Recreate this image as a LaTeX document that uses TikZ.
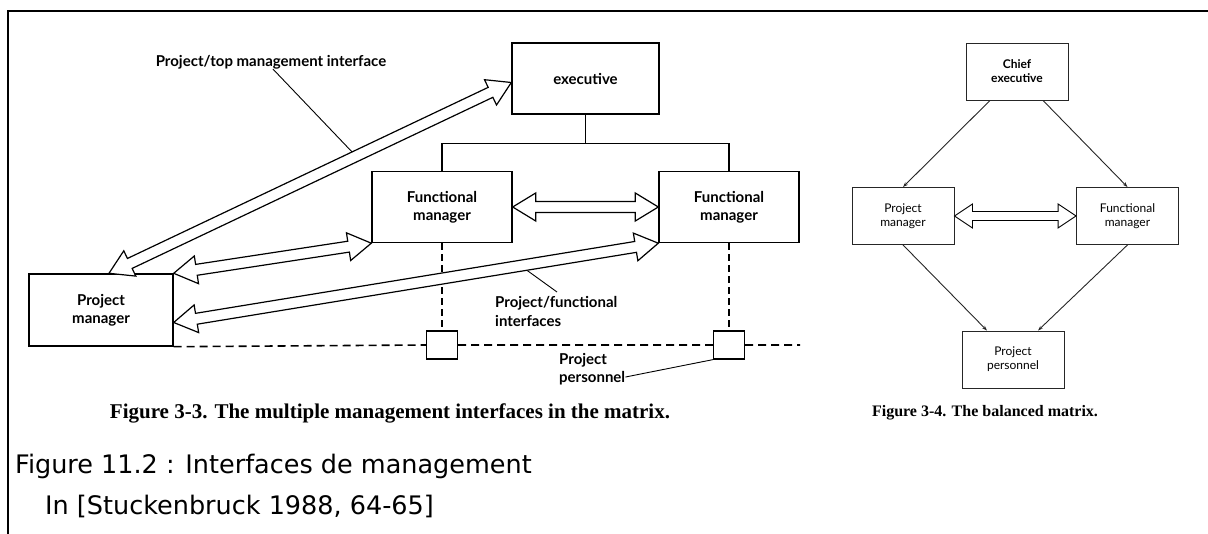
\documentclass[tikz,border=0pt]{standalone}
\usepackage{fontspec}
\setmainfont{Liberation Serif}
\newfontfamily\lblfont{Lato}
\newfontfamily\notefont{DejaVu Sans}
\usetikzlibrary{arrows.meta, positioning, calc}
\tikzset{
  mbox/.style={draw, line width=1.4pt, minimum width=140pt, minimum height=71pt,
    inner sep=2pt, align=center, font=\lblfont\bfseries\fontsize{15}{18}\selectfont},
  sbox/.style={draw, line width=0.9pt, draw=black!85, minimum width=102pt, minimum height=57pt,
    inner sep=2pt, align=center, font=\lblfont\fontsize{12}{14}\selectfont},
  pers/.style={draw, line width=1.3pt, fill=white, minimum width=31pt,
    minimum height=28pt, inner sep=0pt},
  lbl/.style={inner sep=0pt, align=left, font=\lblfont\bfseries\fontsize{15}{19}\selectfont},
  leader/.style={line width=0.9pt},
  link/.style={line width=1.4pt},
  dotlink/.style={line width=2.2pt, dash pattern=on 7pt off 4pt},
  dashlink/.style={line width=1.6pt, dash pattern=on 8pt off 5pt},
  ray/.style={line width=0.9pt, draw=black!85, -{Stealth[length=5pt,width=3.5pt]}},
  caption/.style={inner sep=0pt, font=\bfseries\fontsize{21}{24}\selectfont},
  note/.style={inner sep=0pt, anchor=west, font=\notefont\fontsize{25.5}{30}\selectfont},
  % hollow double arrow: head length, head half width, shaft half width
  hollow/.style n args={3}{draw, fill=white, line width=1.2pt, line join=miter,
    to path={
      let \p1=($(\tikztostart)!#1!(\tikztotarget)$),
          \p2=($(\tikztotarget)!#1!(\tikztostart)$) in
      -- ($(\p1)!#2!90:(\tikztotarget)$) -- ($(\p1)!#3!90:(\tikztotarget)$)
      -- ($(\p2)!#3!-90:(\tikztostart)$) -- ($(\p2)!#2!-90:(\tikztostart)$)
      -- (\tikztotarget)
      -- ($(\p2)!#2!90:(\tikztostart)$) -- ($(\p2)!#3!90:(\tikztostart)$)
      -- ($(\p1)!#3!-90:(\tikztotarget)$) -- ($(\p1)!#2!-90:(\tikztotarget)$)
      -- cycle}}
}

\begin{document}
\begin{tikzpicture}[x=1pt, y=-1pt]
  \useasboundingbox (0,0) rectangle (1208,534);
  \draw[line width=2.5pt] (8,534) -- (8,11) -- (1208,11);

  % figure 3-3
  \node[mbox, minimum width=147pt] (exec) at (585.5,78.5) {executive};
  \node[mbox] (fm1) at (442,207) {Functional\\manager};
  \node[mbox] (fm2) at (729,207) {Functional\\manager};
  \node[mbox, minimum width=144pt, minimum height=72pt] (pm) at (101,310) {Project\\manager};

  \draw[link] (exec.south) -- ++(0,29) coordinate (fork);
  \draw[link] (fm1.north) |- (fork) -| (fm2.north);

  \node[pers] (sq1) at (442,345) {};
  \node[pers] (sq2) at (729,345) {};
  \coordinate (pend) at (800,345);
  \draw[dashlink] (pm.south east) -- (sq1.west) (sq1.east) -- (sq2.west) (sq2.east) -- (pend);
  \draw[dotlink] (fm1.south) -- (sq1.north);
  \draw[dotlink] (fm2.south) -- (sq2.north);

  \coordinate (a1) at ([xshift=8pt]pm.north);
  \coordinate (b1) at ([yshift=-4pt]exec.west);
  \coordinate (a4) at ($(pm.north east)!0.67!(pm.south east)$);
  \draw[hollow={23pt}{14pt}{5.5pt}] (a1) to (b1);
  \draw[hollow={23pt}{14pt}{5.5pt}] (pm.north east) to (fm1.south west);
  \draw[hollow={23pt}{14pt}{5.5pt}] (fm1.east) to (fm2.west);
  \draw[hollow={23pt}{14pt}{5.5pt}] (a4) to (fm2.south west);

  \node[lbl] (toplbl) at (271,62) {Project/top management interface};
  \coordinate (topfoot) at ($($(a1)!0.61!(b1)$)!5.5pt!90:(b1)$);
  \draw[leader] ([xshift=2pt]toplbl.south) -- (topfoot);

  \node[lbl, anchor=north west] (fnlbl) at (495,296) {Project/functional\\interfaces};
  \coordinate (fnfoot) at ($($(a4)!0.728!(fm2.south west)$)!6pt!-90:(fm2.south west)$);
  \draw[leader] ([xshift=62pt,yshift=4pt]fnlbl.north west) -- (fnfoot);

  \node[lbl, anchor=north west, font=\lblfont\bfseries\fontsize{15}{18}\selectfont] (pplbl) at (559,353) {Project\\personnel};
  \draw[leader] ([yshift=8pt]pplbl.south east) -- (sq2.south west);

  \node[caption] (cap1) at (390,413) {Figure 3-3. The multiple management interfaces in the matrix.};

  % figure 3-4
  \node[sbox, font=\lblfont\bfseries\fontsize{12}{14}\selectfont] (chief) at (1017,71.5) {Chief\\executive};
  \node[sbox] (rpm) at (903,216) {Project\\manager};
  \node[sbox] (rfm) at (1127.5,216) {Functional\\manager};
  \node[sbox] (rpp) at (1013,359.5) {Project\\personnel};
  \draw[ray] ([xshift=-27pt]chief.south) -- (rpm.north);
  \draw[ray] ([xshift=26pt]chief.south) -- (rfm.north);
  \draw[ray] (rpm.south) -- ([xshift=-26pt]rpp.north);
  \draw[ray] (rfm.south) -- ([xshift=25pt]rpp.north);
  \draw[hollow={18pt}{12pt}{4.5pt}, line width=0.9pt] (rpm.east) to (rfm.west);

  \node[caption, font=\bfseries\fontsize{16}{19}\selectfont] (cap2) at (985,413) {Figure 3-4. The balanced matrix.};

  \node[note] (note1) at (15,466) {Figure 11.2 : Interfaces de management};
  \node[note] (note2) at (45,506) {In [Stuckenbruck 1988, 64-65]};
\end{tikzpicture}
\end{document}
